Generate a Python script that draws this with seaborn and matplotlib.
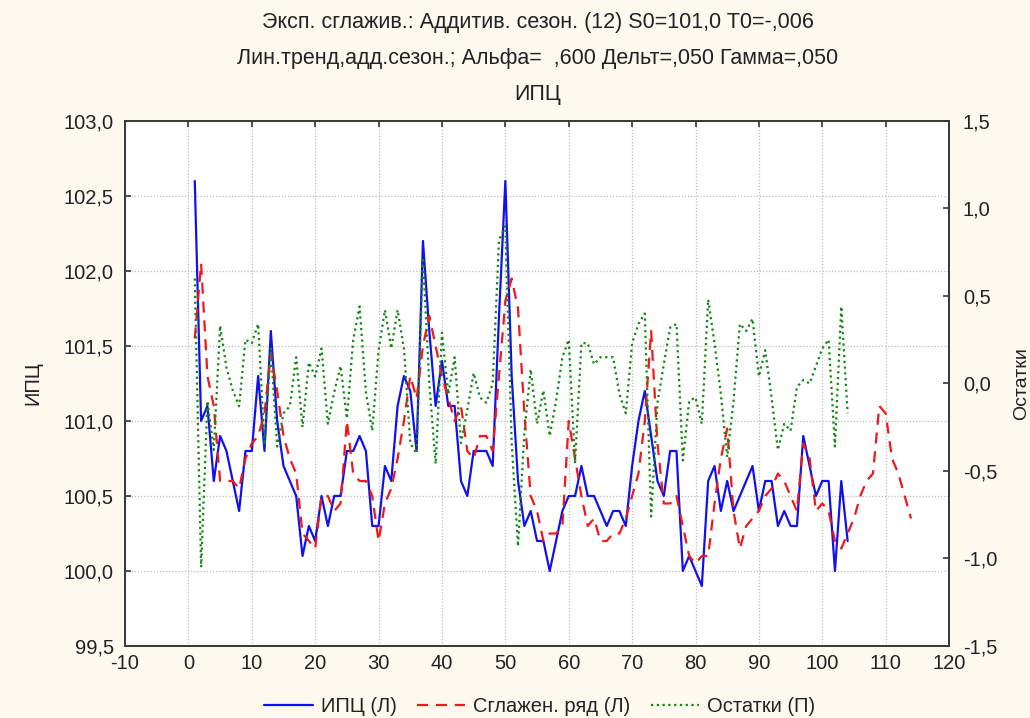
import numpy as np
import pandas as pd
import matplotlib
matplotlib.use('Agg')
import matplotlib.pyplot as plt
from matplotlib.ticker import FuncFormatter, MultipleLocator
import seaborn as sns

# values
ipc = [102.6, 101.0, 101.1, 100.6, 100.9, 100.8, 100.6, 100.4, 100.8, 100.8,
       101.3, 100.8, 101.6, 101.0, 100.7, 100.6, 100.5, 100.1, 100.3, 100.2,
       100.5, 100.3, 100.5, 100.5, 100.8, 100.8, 100.9, 100.8, 100.3, 100.3,
       100.7, 100.6, 101.1, 101.3, 101.2, 100.8, 102.2, 101.6, 101.1, 101.4,
       101.1, 101.1, 100.6, 100.5, 100.8, 100.8, 100.8, 100.7, 101.7, 102.6,
       101.3, 100.6, 100.3, 100.4, 100.2, 100.2, 100.0, 100.2, 100.4, 100.5,
       100.5, 100.7, 100.5, 100.5, 100.4, 100.3, 100.4, 100.4, 100.3, 100.7,
       101.0, 101.2, 100.9, 100.6, 100.5, 100.8, 100.8, 100.0, 100.1, 100.0,
       99.9, 100.6, 100.7, 100.4, 100.6, 100.4, 100.5, 100.6, 100.7, 100.4,
       100.6, 100.6, 100.3, 100.4, 100.3, 100.3, 100.9, 100.7, 100.5, 100.6,
       100.6, 100.0, 100.6, 100.2]

smoothed = [101.55, 102.05, 101.3, 101.1, 100.6, 100.6, 100.6, 100.55, 100.75, 100.85,
            100.9, 101.05, 101.45, 101.2, 100.9, 100.75, 100.65, 100.25, 100.2, 100.15,
            100.5, 100.5, 100.4, 100.45, 101.0, 100.65, 100.6, 100.6, 100.5, 100.2,
            100.45, 100.55, 100.75, 101.0, 101.3, 101.15, 101.5, 101.7, 101.5, 101.3,
            101.15, 101.0, 101.1, 100.8, 100.75, 100.9, 100.9, 100.8, 101.3, 101.8,
            101.95, 101.75, 101.05, 100.5, 100.4, 100.2, 100.25, 100.25, 100.3, 101.0,
            100.75, 100.5, 100.3, 100.35, 100.2, 100.2, 100.25, 100.25, 100.35, 100.5,
            100.65, 101.0, 101.6, 100.85, 100.45, 100.45, 100.5, 100.3, 100.1, 100.05,
            100.1, 100.1, 100.45, 100.75, 100.95, 100.4, 100.15, 100.3, 100.35, 100.4,
            100.5, 100.55, 100.65, 100.6, 100.5, 100.4, 100.85, 100.75, 100.4, 100.45,
            100.4, 100.2, 100.15, 100.25, 100.35, 100.5, 100.6, 100.65, 101.1, 101.05,
            100.75, 100.65, 100.5, 100.35]

resid = [0.6, -1.05, -0.1, -0.38, 0.33, 0.09, -0.04, -0.13, 0.25, 0.23,
         0.34, -0.35, 0.2, -0.36, -0.17, -0.13, 0.15, -0.25, 0.12, 0.04,
         0.2, -0.23, -0.05, 0.1, -0.2, 0.25, 0.44, -0.05, -0.27, 0.19,
         0.42, 0.2, 0.42, 0.2, -0.34, -0.4, 0.72, 0.0, -0.46, 0.29,
         -0.06, 0.15, -0.34, -0.15, 0.06, -0.08, -0.11, 0.0, 0.82, 0.9,
         -0.34, -0.93, -0.28, 0.08, -0.23, -0.04, -0.3, -0.1, 0.15, 0.25,
         -0.45, 0.23, 0.23, 0.11, 0.15, 0.15, 0.15, -0.06, -0.17, 0.23,
         0.34, 0.4, -0.76, -0.11, 0.11, 0.32, 0.34, -0.44, -0.1, -0.08,
         -0.23, 0.48, 0.23, -0.06, -0.42, -0.1, 0.34, 0.3, 0.37, 0.04,
         0.19, -0.08, -0.38, -0.23, -0.27, -0.02, 0.02, 0.0, 0.1, 0.2,
         0.25, -0.36, 0.44, -0.17]

title_lines = ['Эксп. сглажив.: Аддитив. сезон. (12) S0=101,0 T0=-,006',
               'Лин.тренд,адд.сезон.; Альфа=  ,600 Дельт=,050 Гамма=,050',
               'ИПЦ']
labels = ['ИПЦ (Л)', 'Сглажен. ряд (Л)', 'Остатки (П)']

df_ipc = pd.DataFrame({'t': np.arange(1, len(ipc) + 1), 'v': ipc})
df_sm = pd.DataFrame({'t': np.arange(1, len(smoothed) + 1), 'v': smoothed})
df_res = pd.DataFrame({'t': np.arange(1, len(resid) + 1), 'v': resid})

sns.set_style('white')
plt.rcParams['font.family'] = ['Liberation Sans', 'DejaVu Sans']
txt = '#222222'

fig = plt.figure(figsize=(10.3, 7.18), dpi=100, facecolor='#fdf9ee')
ax = fig.add_axes([0.1214, 0.1003, 0.8, 0.7312])
ax.set_facecolor('white')
ax2 = ax.twinx()

sns.lineplot(data=df_ipc, x='t', y='v', ax=ax, color='#1010f0', lw=1.6, label=labels[0], legend=False)
sns.lineplot(data=df_sm, x='t', y='v', ax=ax, color='#f01818', lw=1.6,
             linestyle=(0, (5, 3.5)), label=labels[1], legend=False)
sns.lineplot(data=df_res, x='t', y='v', ax=ax2, color='#118811', lw=1.6,
             linestyle=(0, (1, 1.6)), label=labels[2], legend=False)

ax.set_xlim(-10, 120)
ax.set_ylim(99.5, 103.0)
ax2.set_ylim(-1.5, 1.5)
ax.xaxis.set_major_locator(MultipleLocator(10))
ax.yaxis.set_major_locator(MultipleLocator(0.5))
ax2.yaxis.set_major_locator(MultipleLocator(0.5))
comma = FuncFormatter(lambda v, p: f'{v:.1f}'.replace('.', ','))
ax.yaxis.set_major_formatter(comma)
ax2.yaxis.set_major_formatter(comma)
ax.xaxis.set_major_formatter(FuncFormatter(lambda v, p: f'{v:.0f}'))

ax.grid(True, color='#bdbdbd', linestyle=(0, (1, 1.5)), lw=0.9)
ax.tick_params(axis='both', direction='in', length=4, width=1.2, color='#333333',
               labelsize=14.5, labelcolor=txt, top=True, pad=6)
ax.tick_params(axis='y', pad=8)
ax2.tick_params(axis='y', direction='in', length=4, width=1.2, color='#333333',
                labelsize=14.5, labelcolor=txt, pad=10)
for a in (ax, ax2):
    for s in a.spines.values():
        s.set_color('#3a3a3a')
        s.set_linewidth(1.3)

ax.set_xlabel('')
ax.set_ylabel('ИПЦ', fontsize=14.5, color=txt)
ax.yaxis.set_label_coords(-0.10, 0.5)
ax2.set_ylabel('Остатки', fontsize=14, color=txt)
ax2.yaxis.set_label_coords(1.078, 0.5)

for i, line in enumerate(title_lines):
    fig.text(0.522, 0.969 - i * 0.0505, line, ha='center', va='center', fontsize=15.5, color=txt)

h1, l1 = ax.get_legend_handles_labels()
h2, l2 = ax2.get_legend_handles_labels()
fig.legend(h1 + h2, l1 + l2, loc='center', bbox_to_anchor=(0.524, 0.016), ncol=3,
           frameon=False, fontsize=14.5, handlelength=2.4, columnspacing=1.0,
           handletextpad=0.4, labelcolor=txt)

fig.savefig('out.png', dpi=100, facecolor=fig.get_facecolor())
